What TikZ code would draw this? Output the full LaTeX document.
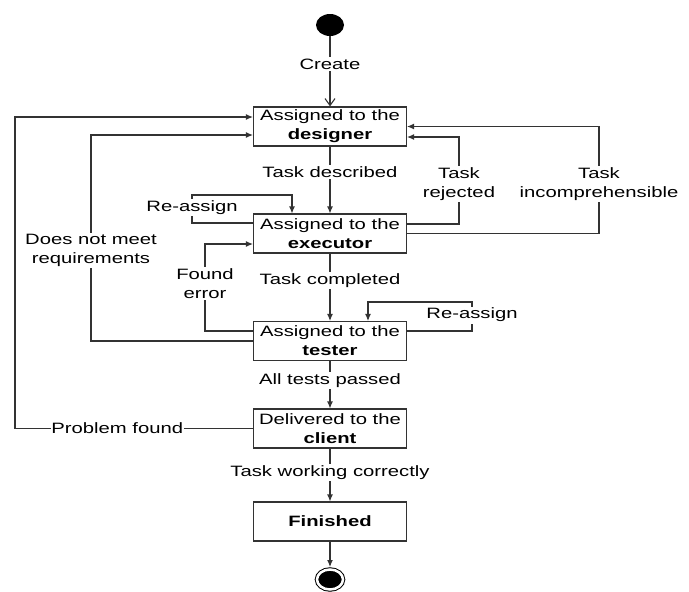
\documentclass[tikz,border=0pt]{standalone}
\usepackage{fontspec}
\setmainfont{Liberation Sans}[FakeStretch=1.35]
\usetikzlibrary{arrows.meta,shapes.geometric}
\tikzset{
  statebox/.style={draw=black!80, line width=1.1pt, rectangle, fill=white,
    minimum width=153pt, minimum height=39pt, inner sep=1pt, align=center},
  guard/.style={fill=white, inner sep=1.5pt, align=center},
  flow/.style={draw=black!80, line width=1.1pt, -{Latex[length=7pt,width=6pt]}},
  openflow/.style={draw=black!80, line width=1.1pt, -{Straight Barb[length=7pt,width=10pt]}},
  startdot/.style={ellipse, fill=black, minimum width=28pt, minimum height=22pt, inner sep=0pt},
  enddot/.style={ellipse, draw=black, fill=black, line width=1pt, double=white,
    double distance=2.5pt, minimum width=26pt, minimum height=20pt, inner sep=0pt}
}
\begin{document}
\begin{tikzpicture}[x=1pt, y=-1pt, font=\fontsize{15pt}{19pt}\selectfont]
                % \clip (0,0) rectangle (689,592);
                \useasboundingbox (0,0) rectangle (689,592);

                % Marking initial state
                \node [startdot] (init) at (330,25) {};%

                % Marking state designer
                \node [statebox] (designer) at (330,126.5) {Assigned to the\\\textbf{designer}};%

                % Marking state executor
                \node [statebox] (executor) at (330,233.5) {Assigned to the\\\textbf{executor}};%

                % Marking state tester
                \node [statebox] (tester) at (330,341) {Assigned to the\\\textbf{tester}};%

                % Marking state client
                \node [statebox] (client) at (330,428.5) {Delivered to the\\\textbf{client}};%

                % Marking state finished
                \node [statebox] (finished) at (330,521.5) {\textbf{Finished}};%

                % Marking final state
                \node [enddot] (final) at (330,579.5) {};%

                % Drawing transition Create
                \draw [openflow] (init) -- node [guard, pos=0.4] (create) {Create} (designer);%

                % Drawing transition Task described
                \draw [flow] (designer) -- node [guard, pos=0.38] (described) {Task described} (executor);%

                % Drawing transition Task rejected
                \draw [flow] ([yshift=9.5pt]executor.east) -- (459,224)
                  -- node [guard, pos=0.46] (rejected) {Task\\rejected} (459,137)
                  -- ([yshift=-10.5pt]designer.east);%

                % Drawing transition Task incomprehensible
                \draw [flow] (executor.east) -- (599,233.5)
                  -- node [guard, pos=0.46] (incomp) {Task\\incomprehensible} (599,126.5)
                  -- (designer.east);%

                % Drawing transition Re-assign (executor)
                \draw [flow] ([yshift=10.5pt]executor.west) -- (192,223)
                  -- node [guard, pos=0.55] (reassignx) {Re-assign} (192,195)
                  -- (292,195) -- ([xshift=-38pt]executor.north);%

                % Drawing transition Task completed
                \draw [flow] (executor) -- node [guard, pos=0.4] (completed) {Task completed} (tester);%

                % Drawing transition Found error
                \draw [flow] ([yshift=10pt]tester.west) -- (205,331)
                  -- node [guard, pos=0.55] (founderr) {Found\\error} (205,244)
                  -- ([yshift=-10.5pt]executor.west);%

                % Drawing transition Does not meet requirements
                \draw [flow] (tester.west) -- (91,341)
                  -- node [guard, pos=0.44] (notmeet) {Does not meet\\requirements} (91,135)
                  -- ([yshift=-8.5pt]designer.west);%

                % Drawing transition Re-assign (tester)
                \draw [flow] ([yshift=10pt]tester.east) -- (472,331)
                  -- node [guard, pos=0.55] (reassignt) {Re-assign} (472,302)
                  -- (368,302) -- ([xshift=38pt]tester.north);%

                % Drawing transition All tests passed
                \draw [flow] (tester) -- node [guard, pos=0.41] (passed) {All tests passed} (client);%

                % Drawing transition Problem found
                \draw [flow] (client.west)
                  -- node [guard, pos=0.57, inner sep=0.5pt] (problem) {Problem found} (15,428.5)
                  -- (15,117) -- ([yshift=9.5pt]designer.west);%

                % Drawing transition Task working correctly
                \draw [flow] (client) -- node [guard, pos=0.46] (working) {Task working correctly} (finished);%

                % Drawing transition to final state
                \draw [flow, shorten >=2pt] (finished) -- (final);%
            \end{tikzpicture}
\end{document}
